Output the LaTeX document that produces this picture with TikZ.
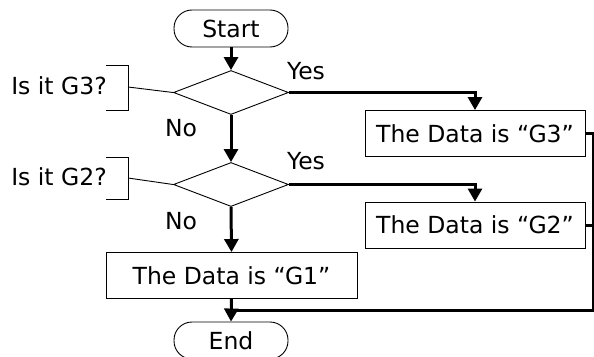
\documentclass[tikz,border=0pt]{standalone}
\usepackage{fontspec}
\setmainfont{DejaVu Sans}
\usepackage{tikz}
\usetikzlibrary{arrows.meta, shapes.geometric, positioning, calc}

\begin{document}
\begin{tikzpicture}[x=1pt, y=-1pt, font=\fontsize{23.5}{27}\selectfont,
	term/.style={rectangle, rounded corners=18pt, draw, line width=0.9pt,
		minimum width=114pt, minimum height=37pt, inner sep=0pt},
	dec/.style={diamond, draw, line width=0.9pt,
		minimum width=115pt, minimum height=44pt, inner sep=0pt},
	box/.style={rectangle, draw, line width=0.9pt,
		minimum height=46pt, inner sep=0pt},
	fl/.style={-{Triangle[length=13pt, width=14pt]}, line width=3pt},
	ln/.style={line width=3pt},
	note/.style={line width=0.9pt}]
	\useasboundingbox (0,0) rectangle (594,356);

	\node[term] (S) at (231,28.5)   {Start};
	\node[dec]  (D3) at (231,92.5)  {};
	\node[dec]  (D2) at (231,184.5) {};
	\node[box, minimum width=220pt] (G3) at (475,133.5) {The Data is “G3”};
	\node[box, minimum width=220pt] (G2) at (475,225)   {The Data is “G2”};
	\node[box, minimum width=251pt] (G1) at (231.5,275.5) {The Data is “G1”};
	\node[term] (E) at (231,340.5)  {End};

	% questions beside the diamonds
	\node (Q3) at (59,86)  {Is it G3?};
	\node (Q2) at (59,177) {Is it G2?};
	\coordinate (k3) at (128,87);
	\coordinate (k2) at (128,178);
	\draw[note] ([xshift=-22pt,yshift=22pt]k3) -| ([yshift=-23pt]k3) -- ++(-22,0);
	\draw[note] (k3) -- (D3.west);
	\draw[note] ([xshift=-22pt,yshift=21pt]k2) -| ([yshift=-21pt]k2) -- ++(-22,0);
	\draw[note] (k2) -- (D2.west);

	% branch labels
	\node (Y3) at (306,71)  {Yes};
	\node (Y2) at (306,161) {Yes};
	\node (N3) at (181,128) {No};
	\node (N2) at (181,221) {No};

	\draw[fl] (S) -- (D3);
	\draw[fl] (D3.south) -- (D2.north);
	\draw[fl] (D2.south) -- (G1.north);
	\draw[fl] (G1.south) -- (E.north);
	\draw[fl] (D3.east) -| (G3.north);
	\draw[fl] (D2.east) -| (G2.north);

	% merge back into the main line
	\coordinate (rail) at (593,310);
	\coordinate (join) at (231,310);
	\draw[ln] (G3.east) -- (G3.east -| rail) -- (rail) -- (join);
	\draw[ln] (G2.east) -- (G2.east -| rail);
\end{tikzpicture}
\end{document}
